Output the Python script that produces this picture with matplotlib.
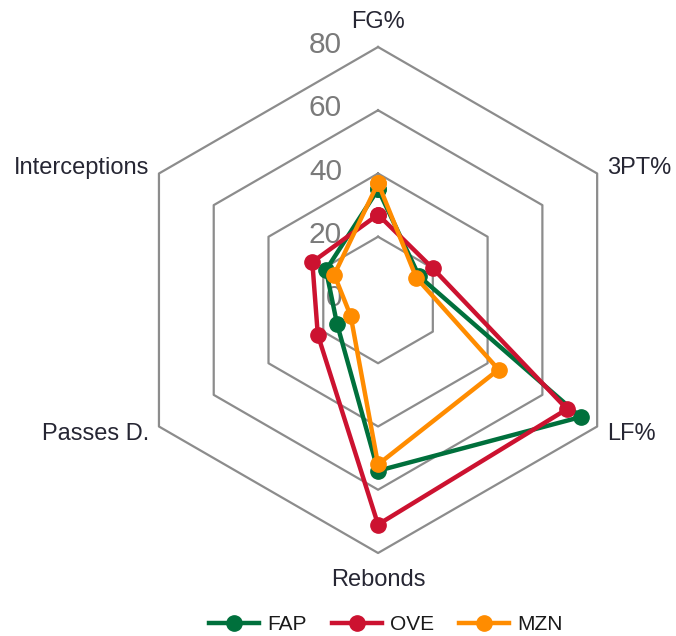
import numpy as np
import matplotlib.pyplot as plt

# Team profiles on six stat categories
categories = ["FG%", "3PT%", "LF%", "Rebonds", "Passes D.", "Interceptions"]
teams = ["FAP", "OVE", "MZN"]
fap = [35, 15, 74, 54, 15, 19]
ove = [27, 20, 69, 71, 22, 24]
mzn = [37, 14, 44, 52, 10, 16]
ring_values = [0, 20, 40, 60, 80]

COLORS = {"FAP": "#00703c", "OVE": "#cc1230", "MZN": "#ff8c00"}
GRID_COLOR = "#8c8c8c"
TEXT_COLOR = "#262633"

plt.rcParams["font.family"] = ["Liberation Sans", "DejaVu Sans"]


def main():
    fig = plt.figure(figsize=(6.76, 6.36), dpi=100)
    ax = fig.add_axes([0.185, 0.1305, 0.7485, 0.7956], projection="polar")
    ax.set_theta_offset(np.pi / 2)
    ax.set_theta_direction(-1)
    ax.set_ylim(0, 80)
    ax.axis("off")

    n = len(categories)
    theta = np.linspace(0, 2 * np.pi, n, endpoint=False)
    theta_closed = np.append(theta, theta[0])

    # hexagonal grid rings
    for r in ring_values[1:]:
        ax.plot(theta_closed, [r] * (n + 1), color=GRID_COLOR, lw=1.6, zorder=1,
                clip_on=False)

    # ring value labels to the left of the top spoke
    for r in ring_values:
        ax.annotate(str(r), xy=(0, r), xytext=(-36, 2), textcoords="offset pixels",
                    ha="right", va="center", fontsize=21.5, color="#7a7a7a",
                    zorder=2, annotation_clip=False)

    # category labels around the outer ring
    offsets = [
        ((0, 25), "center", "center"),
        ((10, 6), "left", "center"),
        ((10, -8), "left", "center"),
        ((0, -27), "center", "center"),
        ((-10, -8), "right", "center"),
        ((-10, 6), "right", "center"),
    ]
    for t, label, (off, ha, va) in zip(theta, categories, offsets):
        ax.annotate(label, xy=(t, 80), xytext=off, textcoords="offset pixels",
                    ha=ha, va=va, fontsize=17, color=TEXT_COLOR,
                    annotation_clip=False)

    for name, vals in zip(teams, [fap, ove, mzn]):
        vals_closed = vals + vals[:1]
        ax.plot(theta_closed, vals_closed, color=COLORS[name], lw=3.2, marker="o",
                markersize=11, label=name, zorder=3, clip_on=False)

    leg = fig.legend(loc="center", bbox_to_anchor=(0.571, 0.018), ncol=3,
                     frameon=False, fontsize=15, handlelength=2.4,
                     columnspacing=1.2, handletextpad=0.4)
    for txt in leg.get_texts():
        txt.set_color("#1a1a1a")

    fig.savefig("out.png", dpi=100)


if __name__ == "__main__":
    main()
